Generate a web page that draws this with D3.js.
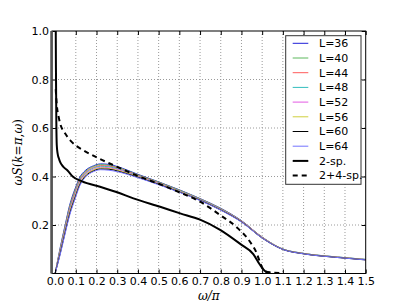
<!DOCTYPE html>
<html>
<head>
<meta charset="utf-8">
<script src="https://cdn.jsdelivr.net/npm/d3@7"></script>
<style>
	body { margin: 0; background: #fff; }
	.tick text { font-family: "DejaVu Sans", sans-serif; font-size: 11px; fill: #000; }
	.legend text { font-family: "DejaVu Sans", sans-serif; font-size: 11px; }
</style>
</head>
<body>
<div class="chartDiv"></div>
<script>

// omega / pi grid for the finite size curves
var omegaL = [0, 0.024, 0.048, 0.07, 0.097, 0.12, 0.145, 0.185, 0.22, 0.26, 0.3, 0.4, 0.5, 0.6, 0.7, 0.8, 0.9, 1.0, 1.1, 1.2, 1.35, 1.5];

var sL36 = [0, 0.104, 0.198, 0.281, 0.351, 0.398, 0.424, 0.444, 0.452, 0.450, 0.441, 0.409, 0.378, 0.345, 0.309, 0.269, 0.218, 0.150, 0.101, 0.083, 0.069, 0.058];
var sL40 = [0, 0.100, 0.193, 0.275, 0.345, 0.393, 0.420, 0.441, 0.449, 0.446, 0.438, 0.407, 0.377, 0.344, 0.308, 0.268, 0.217, 0.150, 0.101, 0.083, 0.069, 0.058];
var sL44 = [0, 0.096, 0.188, 0.269, 0.339, 0.388, 0.416, 0.437, 0.445, 0.443, 0.435, 0.405, 0.375, 0.342, 0.307, 0.267, 0.216, 0.149, 0.100, 0.082, 0.068, 0.057];
var sL48 = [0, 0.092, 0.183, 0.263, 0.333, 0.383, 0.412, 0.434, 0.442, 0.440, 0.432, 0.403, 0.373, 0.341, 0.306, 0.266, 0.215, 0.148, 0.100, 0.082, 0.068, 0.057];
var sL52 = [0, 0.088, 0.178, 0.257, 0.327, 0.378, 0.408, 0.430, 0.438, 0.436, 0.429, 0.401, 0.371, 0.339, 0.304, 0.264, 0.215, 0.148, 0.100, 0.082, 0.068, 0.057];
var sL56 = [0, 0.084, 0.173, 0.251, 0.321, 0.373, 0.404, 0.427, 0.435, 0.433, 0.426, 0.399, 0.369, 0.338, 0.303, 0.263, 0.214, 0.147, 0.100, 0.082, 0.068, 0.057];
var sL60 = [0, 0.080, 0.168, 0.245, 0.315, 0.368, 0.400, 0.423, 0.431, 0.430, 0.423, 0.397, 0.368, 0.336, 0.302, 0.262, 0.213, 0.146, 0.099, 0.081, 0.067, 0.056];
var sL64 = [0, 0.076, 0.163, 0.239, 0.309, 0.363, 0.396, 0.420, 0.428, 0.426, 0.420, 0.395, 0.366, 0.335, 0.301, 0.261, 0.212, 0.146, 0.099, 0.081, 0.067, 0.056];

// 2-spinon
var omega2 = [0.002, 0.004, 0.006, 0.008, 0.012, 0.018, 0.024, 0.04, 0.06, 0.085, 0.13, 0.217, 0.3, 0.378, 0.507, 0.604, 0.7, 0.797, 0.894, 0.957, 0.99, 1.014, 1.04];
var s2 = [1.2, 0.85, 0.62, 0.53, 0.495, 0.475, 0.46, 0.44, 0.425, 0.40, 0.38, 0.358, 0.335, 0.31, 0.275, 0.248, 0.222, 0.18, 0.122, 0.08, 0.035, 0.01, 0.004];

// 2+4-spinon
var omega4 = [0.003, 0.006, 0.01, 0.016, 0.024, 0.048, 0.072, 0.1, 0.137, 0.217, 0.3, 0.4, 0.5, 0.6, 0.7, 0.797, 0.878, 0.942, 0.973, 0.99, 1.006, 1.03, 1.1];
var s4 = [0.76, 0.72, 0.68, 0.65, 0.62, 0.578, 0.55, 0.528, 0.508, 0.472, 0.44, 0.402, 0.37, 0.335, 0.296, 0.241, 0.19, 0.13, 0.085, 0.045, 0.015, 0.004, 0.002];

var xTicks = [0, 0.1, 0.2, 0.3, 0.4, 0.5, 0.6, 0.7, 0.8, 0.9, 1.0, 1.1, 1.2, 1.3, 1.4, 1.5];
var yTicks = [0.2, 0.4, 0.6, 0.8, 1.0];

var seriesNames = ["L=36", "L=40", "L=44", "L=48", "L=52", "L=56", "L=60", "L=64"];
var seriesValues = [sL36, sL40, sL44, sL48, sL52, sL56, sL60, sL64];
var seriesColors = ["#1f1fd8", "#5cb85c", "#ff5a5a", "#33bdbd", "#e35ae3", "#cfcf3c", "#000000", "#7373ff"];

var pLeft = 52, pRight = 365.7, pTop = 31, pBottom = 273.5;

var svg = d3.select(".chartDiv").append("svg")
	.attr("width", 407)
	.attr("height", 305);

var xScale = d3.scaleLinear().domain([-0.015, 1.5]).range([pLeft, pRight]);
var yScale = d3.scaleLinear().domain([0, 1]).range([pBottom, pTop]);

svg.append("clipPath").attr("id", "clip")
	.append("rect")
	.attr("x", pLeft).attr("y", pTop)
	.attr("width", pRight - pLeft).attr("height", pBottom - pTop);

// grid
var grid = svg.append("g").attr("class", "grid")
	.style("stroke", "#9a9a9a")
	.style("stroke-dasharray", "1,2")
	.style("stroke-width", 1);

grid.selectAll(".vg").data(xTicks.slice(1, -1))
	.enter().append("line")
	.attr("x1", function (d) { return xScale(d); })
	.attr("x2", function (d) { return xScale(d); })
	.attr("y1", pTop).attr("y2", pBottom);

grid.selectAll(".hg").data(yTicks.slice(0, -1))
	.enter().append("line")
	.attr("y1", function (d) { return yScale(d); })
	.attr("y2", function (d) { return yScale(d); })
	.attr("x1", pLeft).attr("x2", pRight);

// curves
var line = d3.line()
	.x(function (d) { return xScale(d[0]); })
	.y(function (d) { return yScale(d[1]); })
	.curve(d3.curveMonotoneX);

var curves = svg.append("g").attr("clip-path", "url(#clip)").style("fill", "none");

seriesValues.forEach(function (vals, i) {
	curves.append("path")
		.attr("d", line(d3.zip(omegaL, vals)))
		.style("stroke", seriesColors[i])
		.style("stroke-width", 1);
});

curves.append("path")
	.attr("d", line(d3.zip(omega2, s2)))
	.style("stroke", "#000")
	.style("stroke-width", 2);

curves.append("path")
	.attr("d", line(d3.zip(omega4, s4)))
	.style("stroke", "#000")
	.style("stroke-width", 2)
	.style("stroke-dasharray", "5,4");

// axes, ticks pointing inward
var fmt = d3.format(".1f");

svg.append("g")
	.attr("transform", "translate(0," + pBottom + ")")
	.call(d3.axisBottom(xScale).tickValues(xTicks).tickFormat(fmt).tickSize(-4).tickPadding(4));

svg.append("g")
	.attr("transform", "translate(0," + pTop + ")")
	.call(d3.axisTop(xScale).tickValues(xTicks).tickFormat("").tickSize(-4));

svg.append("g")
	.attr("transform", "translate(" + pLeft + ",0)")
	.call(d3.axisLeft(yScale).tickValues(yTicks).tickFormat(fmt).tickSize(-4).tickPadding(3));

svg.append("g")
	.attr("transform", "translate(" + pRight + ",0)")
	.call(d3.axisRight(yScale).tickValues(yTicks).tickFormat("").tickSize(-4));

svg.selectAll(".domain").remove();
svg.selectAll(".tick line").style("stroke", "#000");

// frame
svg.append("rect")
	.attr("x", pLeft).attr("y", pTop)
	.attr("width", pRight - pLeft).attr("height", pBottom - pTop)
	.style("fill", "none").style("stroke", "#000").style("stroke-width", 1);

svg.append("line")
	.attr("x1", pLeft - 0.5).attr("x2", pLeft - 0.5)
	.attr("y1", pTop).attr("y2", pBottom)
	.style("stroke", "#555").style("stroke-width", 2.5);

// axis titles
svg.append("text")
	.attr("x", (pLeft + pRight) / 2).attr("y", 300)
	.attr("text-anchor", "middle")
	.style("font-family", "DejaVu Serif, serif")
	.style("font-size", "12px")
	.style("font-style", "italic")
	.text("ω/π");

var ylab = svg.append("text")
	.attr("transform", "translate(22," + ((pTop + pBottom) / 2) + ") rotate(-90)")
	.attr("text-anchor", "middle")
	.style("font-family", "DejaVu Serif, serif")
	.style("font-size", "12px");

[["ωS", "italic"], ["(", "normal"], ["k", "italic"], ["=", "normal"], ["π", "italic"], [",", "normal"], ["ω", "italic"], [")", "normal"]]
	.forEach(function (p) { ylab.append("tspan").style("font-style", p[1]).text(p[0]); });

// legend
var legend = svg.append("g").attr("class", "legend");

legend.append("rect")
	.attr("x", 285.7).attr("y", 35.7)
	.attr("width", 75.3).attr("height", 148.6)
	.style("fill", "#fff").style("stroke", "#333").style("stroke-width", 1);

var legendItems = seriesNames.map(function (n, i) {
	return { name: n, color: seriesColors[i], width: 1, dash: null };
});
legendItems.push({ name: "2-sp.", color: "#000", width: 2, dash: null });
legendItems.push({ name: "2+4-sp.", color: "#000", width: 2, dash: "5,4" });

var row = legend.selectAll(".row").data(legendItems)
	.enter().append("g")
	.attr("class", "row")
	.attr("transform", function (d, i) { return "translate(0," + (43.3 + i * 14.7) + ")"; });

row.append("line")
	.attr("x1", 292.7).attr("x2", 308.3)
	.style("stroke", function (d) { return d.color; })
	.style("stroke-width", function (d) { return d.width; })
	.style("stroke-dasharray", function (d) { return d.dash; });

row.append("text")
	.attr("x", 319)
	.attr("dy", "0.35em")
	.text(function (d) { return d.name; });

</script>
</body>
</html>
